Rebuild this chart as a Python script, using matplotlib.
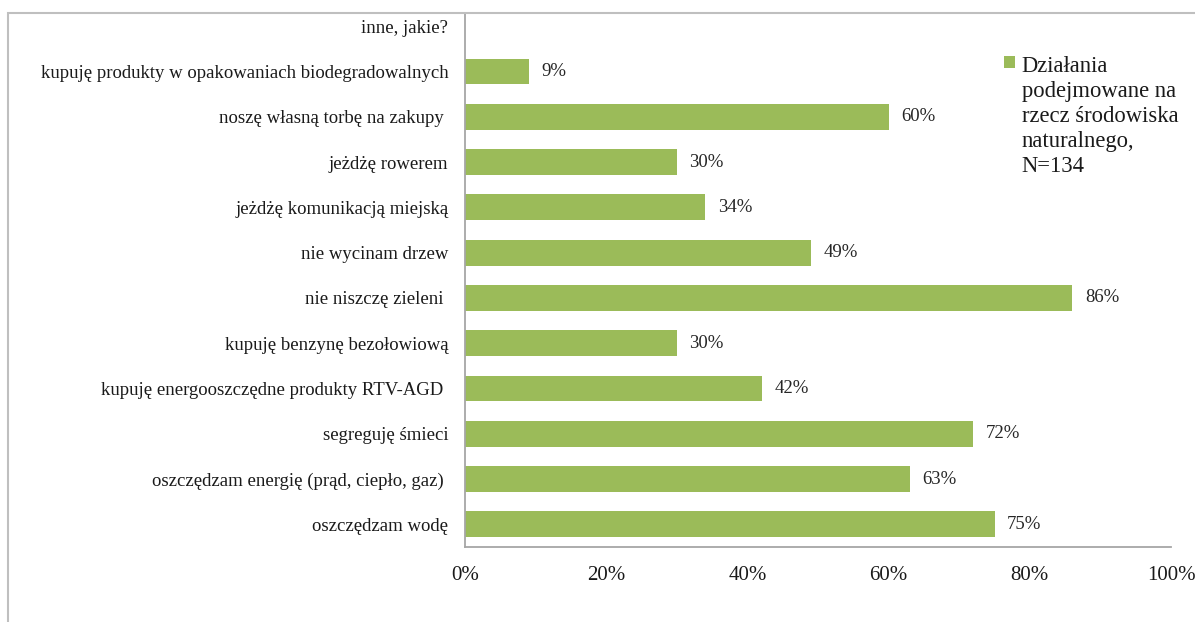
import matplotlib.pyplot as plt
from matplotlib.patches import Rectangle

plt.rcParams["font.family"] = ["Liberation Serif", "DejaVu Serif"]

categories = [
    "oszczędzam wodę",
    "oszczędzam energię (prąd, ciepło, gaz) ",
    "segreguję śmieci",
    "kupuję energooszczędne produkty RTV-AGD ",
    "kupuję benzynę bezołowiową",
    "nie niszczę zieleni ",
    "nie wycinam drzew",
    "jeżdżę komunikacją miejską",
    "jeżdżę rowerem",
    "noszę własną torbę na zakupy ",
    "kupuję produkty w opakowaniach biodegradowalnych",
    "inne, jakie?",
]
values = [75, 63, 72, 42, 30, 86, 49, 34, 30, 60, 9, None]
ticks = [0, 20, 40, 60, 80, 100]
series_name = "Działania\npodejmowane na\nrzecz środowiska\nnaturalnego,\nN=134"

W, H = 1195, 622
fig = plt.figure(figsize=(W / 100, H / 100), dpi=100)
ax = fig.add_axes([465 / W, 1 - 547 / H, (1171 - 465) / W, (547 - 13) / H])

ypos = list(range(len(categories)))
bar_vals = [v if v is not None else 0 for v in values]
ax.barh(ypos, bar_vals, height=0.57, color="#9BBB59", label=series_name)

for y, v in zip(ypos, values):
    if v is None:
        continue
    ax.text(v + 1.8, y, f"{v}%", va="center", ha="left", fontsize=13.5, color="#262626")

ax.set_xlim(0, 100)
ax.set_ylim(-0.5, 11.29)
ax.set_xticks(ticks)
ax.set_xticklabels([f"{t}%" for t in ticks], fontsize=15)
ax.set_yticks(ypos)
ax.set_yticklabels(categories, fontsize=13.5)
ax.tick_params(axis="both", length=0, colors="#1a1a1a")
ax.tick_params(axis="y", pad=12)
ax.tick_params(axis="x", pad=14)

for s in ["top", "right"]:
    ax.spines[s].set_visible(False)
for s in ["left", "bottom"]:
    ax.spines[s].set_color("#A6A6A6")
    ax.spines[s].set_linewidth(1.3)

leg = fig.legend(
    loc="upper left",
    bbox_to_anchor=(1004 / W, 1 - 56 / H),
    frameon=False,
    fontsize=16.3,
    handlelength=0.5,
    handleheight=0.45,
    handletextpad=0.28,
    borderpad=0,
    borderaxespad=0,
    labelspacing=0,
)
for t in leg.get_texts():
    t.set_linespacing(1.25)
    t.set_color("#1a1a1a")
# put the square next to the first line of the label, not its middle
for col in leg._legend_handle_box.get_children():
    for row in col.get_children():
        row.align = "top"

fig.patches.append(
    Rectangle((8 / W, -0.1), 1.2, 1 - 13 / H + 0.1, transform=fig.transFigure,
              fill=False, edgecolor="#BFBFBF", linewidth=1.5)
)

fig.savefig("out.png", dpi=100)
